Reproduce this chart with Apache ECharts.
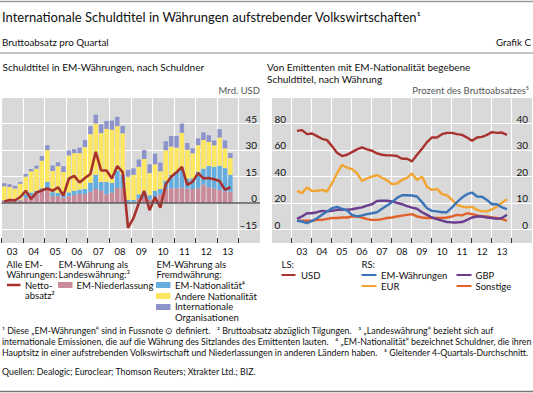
<!DOCTYPE html>
<html><head><meta charset="utf-8">
<script src="https://cdn.jsdelivr.net/npm/echarts@6.0.0/dist/echarts.min.js"></script>
<style>html,body{margin:0;padding:0;background:#fff}#c{width:533px;height:393px}</style>
</head><body><div id="c"></div>
<script>
// ---------- DATA ----------
const leftYearLabels  = ['03','04','05','06','07','08','09','10','11','12','13',''];
const rightYearLabels = ['','03','04','05','06','07','08','09','10','11','12','13',''];
const leftValueTicks  = [-15, 0, 15, 30, 45];
const rightTicksLS    = [0, 20, 40, 60, 80];
const rightTicksRS    = [0, 10, 20, 30, 40];

// Left panel: quarterly, 2003Q1 - 2013Q3 (bn USD)
const emNiederlassung = [1.5,1.5,1.0,1.5,3.0,4.5,5.5,6.5,8.5,4.0,4.0,3.3,3.9,4.6,5.2,5.2,6.5,8.0,7.0,5.0,6.0,8.5,8.5,1.0,0.8,2.5,3.0,2.0,3.5,5.0,8.0,8.4,8.4,8.8,8.2,8.0,8.4,10.5,9.0,8.4,7.5,6.6,6.6];
const emNationalitaet = [0.3,0.3,0.3,0.5,2.0,1.5,1.5,2.0,3.5,2.2,1.8,1.3,2.2,2.4,2.4,2.8,5.0,8.0,5.0,7.0,5.5,10.0,7.5,1.0,1.0,2.5,3.5,2.5,3.5,3.0,4.7,7.5,9.4,10.9,5.6,6.0,9.4,9.0,12.0,12.2,13.7,13.2,9.4];
const andereNationalitaet = [7.8,7.4,7.0,9.0,10.0,12.0,12.5,15.5,18.0,12.0,15.1,13.0,20.9,21.3,20.7,23.7,27.5,29.0,27.6,30.0,30.0,25.0,23.5,13.0,14.2,15.5,18.5,12.5,15.0,10.0,17.2,16.1,13.6,20.0,16.4,14.2,15.0,16.2,13.6,12.1,15.9,11.2,9.5];
const intOrganisationen = [1.6,1.5,1.5,1.0,1.5,1.3,1.7,2.6,2.8,3.1,2.2,3.3,2.8,2.2,3.1,4.0,4.5,5.0,5.0,4.5,5.2,5.3,4.2,3.7,3.7,4.2,5.0,5.0,6.0,5.0,5.1,6.0,6.6,5.3,3.8,2.8,3.8,4.3,3.8,2.8,4.7,4.5,2.8];
const nettoabsatz = [1.0,1.8,1.6,3.5,7.0,2.4,6.0,7.2,8.3,7.0,9.0,4.3,13.8,15.4,11.7,14.2,16.5,29.0,18.5,18.5,14.0,21.0,17.5,-14.0,-8.5,0.0,6.8,-4.0,3.5,-2.5,10.5,15.0,17.5,20.5,10.3,12.2,17.0,14.0,14.2,13.5,12.5,7.5,9.0];

// Right panel: % of gross issuance, 4-quarter moving average
const usd = [74.5,75,72,72.5,70.5,68.5,67.5,63,58,55.5,56.5,58.5,60.5,62,60.5,59.5,57.5,56.5,56,56,55.5,53.5,53.5,51.5,56.5,61,66,69.5,69.5,72,73,73,72,71.5,69.5,67,69.5,70,71.5,73.5,73,73.2,71.5];
const emWaehrungen = [3.4,3.1,2.5,3.3,4.3,5.6,6.9,8.1,8.6,7.9,7.3,5.6,5.0,5.4,5.9,6.2,6.6,7.9,9.1,10.4,12.0,13.0,13.0,12.9,12.5,10.4,8.1,7.1,6.9,6.6,6.6,8.4,10.4,12.1,13.4,14.0,12.5,12.4,11.2,9.6,9.6,8.4,7.8];
const eur = [14.6,13.8,15.9,14.6,14.7,15.0,14.4,17.5,21.2,24.4,23.4,22.8,21.2,18.4,19.3,20.0,20.6,19.6,18.6,17.2,17.4,18.8,19.5,21.2,18.7,20.0,16.2,15.0,15.4,13.4,12.9,11.3,9.4,8.7,8.4,8.6,7.5,6.9,6.9,7.7,8.7,10.2,11.5];
const gbp = [4.1,5.0,6.2,6.2,6.6,7.1,6.9,7.1,7.5,7.5,7.5,7.7,8.1,8.4,9.1,9.6,10.8,10.9,10.9,10.7,10.1,9.6,8.9,8.3,7.9,6.6,5.6,4.6,4.0,3.4,2.9,2.75,2.75,2.9,3.7,4.6,5.0,5.0,4.6,4.4,4.1,4.4,5.6];
const sonstige = [3.4,3.4,3.4,3.4,3.7,3.7,4.1,4.4,4.4,4.6,4.6,5.0,5.0,4.6,4.0,3.7,3.7,4.0,4.4,4.6,5.0,5.3,5.6,5.9,5.0,4.6,4.4,4.4,4.4,4.4,4.6,5.0,5.6,5.4,6.2,5.9,5.4,5.0,5.0,4.6,4.4,4.0,3.4];

// ---------- STYLE ----------
const FONT = 'Lato, "Liberation Sans", sans-serif';
const GREY = '#d9d9d9';
const C = {
  red: '#a8322d', pink: '#c98a99', blue: '#63ade0', yellow: '#fde660', purple: '#8c93cb',
  usd: '#a8322d', em: '#3c74b8', eur: '#f2a530', gbp: '#6b3d8e', son: '#e2602a'
};
// quarter categories 2003Q1..2014Q4 for the left panel
const quarterCats = [];
leftYearLabels.forEach((y, yi) => { for (let q = 1; q <= 4; q++) quarterCats.push((2003 + yi) + 'Q' + q); });
const qEnd = i => 2003 + (i + 1) / 4;

function bar(name, arr, color, extra) {
  return Object.assign({
    type: 'bar', name, xAxisIndex: 1, yAxisIndex: 0, stack: 'left', barWidth: 4.4,
    itemStyle: { color }, data: arr, silent: true, z: 2
  }, extra || {});
}
function rline(name, arr, color, yIdx) {
  return {
    type: 'line', name, xAxisIndex: 3, yAxisIndex: yIdx, symbol: 'none', silent: true,
    lineStyle: { color, width: 2.4 }, data: arr.map((v, i) => [qEnd(i), v]), z: 3
  };
}

const chart = echarts.init(document.getElementById('c'), null, { renderer: 'svg' });

const txt = (x, y, text, size, extra) => ({
  type: 'text', x, y, silent: true,
  style: Object.assign({ text, font: `${size}px ${FONT}`, fill: '#111', align: 'left', verticalAlign: 'middle' }, (extra || {}))
});
const hline = (x1, x2, y, color, w) => ({ type: 'line', silent: true, shape: { x1, y1: y, x2, y2: y }, style: { stroke: color, lineWidth: w } });
const rect = (x, y, w, h, color) => ({ type: 'rect', silent: true, shape: { x, y, width: w, height: h }, style: { fill: color } });

const catAxis = (gridIndex, data) => ({
  type: 'category', gridIndex, data, boundaryGap: true,
  axisLine: { show: false }, axisTick: { show: false }, splitLine: { show: false },
  axisLabel: { interval: 0, margin: 3, fontSize: 9.5, color: '#111', fontFamily: FONT }
});
const tickAxis = (gridIndex) => ({
  type: 'value', gridIndex, min: 2003, max: 2014, interval: 1,
  axisLine: { show: false }, axisLabel: { show: false },
  axisTick: { show: true, inside: true, length: 5, lineStyle: { color: '#333', width: 1 } },
  splitLine: { show: true, lineStyle: { color: '#fff', width: 1.2 } }
});

const option = {
  animation: false,
  grid: [
    { left: 1.5, right: 273, top: 97, bottom: 150, show: true, backgroundColor: GREY, borderWidth: 0, outerBoundsMode: 'none' },
    { left: 272, right: 1, top: 97, bottom: 150, show: true, backgroundColor: GREY, borderWidth: 0, outerBoundsMode: 'none' },
    { left: 1.5, right: 533 - 1.5 - 11 * 21.56, top: 97, bottom: 150, outerBoundsMode: 'none' },
    { left: 291.7, right: 21.3, top: 97, bottom: 150, outerBoundsMode: 'none' }
  ],
  xAxis: [
    catAxis(0, leftYearLabels),
    { type: 'category', gridIndex: 0, data: quarterCats, boundaryGap: true, show: false },
    catAxis(1, rightYearLabels),
    { type: 'value', gridIndex: 1, min: 2002, max: 2015, show: false },
    tickAxis(2),
    tickAxis(3)
  ],
  yAxis: [
    { type: 'value', gridIndex: 0, position: 'right', min: -22.5, max: 60, interval: 7.5,
      axisLine: { show: false }, axisTick: { show: false },
      splitLine: { show: true, lineStyle: { color: ['rgba(0,0,0,0)', '#fff'], width: 1.2 } },
      axisLabel: { inside: true, margin: 3, verticalAlign: 'bottom', fontSize: 10, color: '#111', fontFamily: FONT,
        formatter: v => leftValueTicks.includes(v) ? String(v).replace('-', '\u2013') : '' } },
    { type: 'value', gridIndex: 1, position: 'left', min: -10, max: 100, interval: 10,
      axisLine: { show: false }, axisTick: { show: false },
      splitLine: { show: true, lineStyle: { color: ['rgba(0,0,0,0)', '#fff'], width: 1.2 } },
      axisLabel: { inside: true, margin: 2.5, verticalAlign: 'bottom', fontSize: 10, color: '#111', fontFamily: FONT,
        formatter: v => rightTicksLS.includes(v) ? String(v) : '' } },
    { type: 'value', gridIndex: 1, position: 'right', min: -5, max: 50, interval: 5,
      axisLine: { show: false }, axisTick: { show: false }, splitLine: { show: false },
      axisLabel: { inside: true, margin: 4, verticalAlign: 'bottom', fontSize: 10, color: '#111', fontFamily: FONT,
        formatter: v => rightTicksRS.includes(v) ? String(v) : '' } },
    { type: 'value', gridIndex: 2, show: false },
    { type: 'value', gridIndex: 3, show: false }
  ],
  series: [
    bar('EM-Niederlassung', emNiederlassung, C.pink, {
      markLine: { silent: true, symbol: ['none', 'none'], label: { show: false },
        lineStyle: { color: '#5a5a5a', width: 1.6, type: 'solid' }, data: [{ yAxis: 0 }] }
    }),
    bar('EM-Nationalität', emNationalitaet, C.blue),
    bar('Andere Nationalität', andereNationalitaet, C.yellow),
    bar('Internationale Organisationen', intOrganisationen, C.purple),
    { type: 'line', name: 'Nettoabsatz', xAxisIndex: 1, yAxisIndex: 0, symbol: 'none', silent: true,
      lineStyle: { color: C.red, width: 2.6 }, data: nettoabsatz, z: 4 },
    rline('USD', usd, C.usd, 1),
    rline('EUR', eur, C.eur, 2),
    rline('Sonstige', sonstige, C.son, 2),
    rline('GBP', gbp, C.gbp, 2),
    rline('EM-Währungen', emWaehrungen, C.em, 2)
  ],
  graphic: [
    hline(0, 533, 1.5, '#9a9a9a', 1.5),
    txt(2, 17, 'Internationale Schuldtitel in Währungen aufstrebender Volkswirtschaften\u00b9', 13),
    txt(2, 41.5, 'Bruttoabsatz pro Quartal', 9.8),
    txt(531, 41.5, 'Grafik C', 9.8, { align: 'right' }),
    hline(0, 533, 53, '#8a8a8a', 1),
    txt(2.5, 66.5, 'Schuldtitel in EM-Währungen, nach Schuldner', 10),
    txt(267, 66.5, 'Von Emittenten mit EM-Nationalität begebene', 10),
    txt(267, 79, 'Schuldtitel, nach Währung', 10),
    txt(260, 90.5, 'Mrd. USD', 9.5, { align: 'right', fill: '#555' }),
    txt(529, 90.5, 'Prozent des Bruttoabsatzes\u2075', 9.5, { align: 'right', fill: '#555' }),

    // left legend
    txt(6.5, 264, 'Alle EM-', 9.5), txt(6.5, 274, 'Währungen:', 9.5),
    hline(7, 20.5, 285, C.red, 2.5),
    txt(25, 285, 'Netto-', 9.5), txt(25, 295, 'absatz\u00b2', 9.5),
    txt(58.5, 264, 'EM-Währung als', 9.5), txt(58.5, 274, 'Landeswährung:\u00b3', 9.5),
    rect(58, 282, 14.5, 6, C.pink), txt(76.5, 285, 'EM-Niederlassung', 9.5),
    txt(156.5, 264, 'EM-Währung als', 9.5), txt(156.5, 274, 'Fremdwährung:', 9.5),
    rect(156, 282, 14.5, 6, C.blue), txt(175, 285, 'EM-Nationalität\u2074', 9.5),
    rect(156, 293, 14.5, 6, C.yellow), txt(175, 296, 'Andere Nationalität', 9.5),
    rect(156, 304, 14.5, 6, C.purple), txt(175, 306.5, 'Internationale', 9.5),
    txt(175, 317, 'Organisationen', 9.5),

    // right legend
    txt(281.5, 264, 'LS:', 9.5),
    hline(281.5, 295.5, 275, C.usd, 2), txt(301, 275, 'USD', 9.5),
    txt(361.5, 264, 'RS:', 9.5),
    hline(361.5, 376.5, 275, C.em, 2), txt(381, 275, 'EM-Währungen', 9.5),
    hline(361.5, 376.5, 286, C.eur, 2), txt(381, 286, 'EUR', 9.5),
    hline(456.5, 471.5, 275, C.gbp, 2), txt(475.5, 275, 'GBP', 9.5),
    hline(456.5, 471.5, 286, C.son, 2), txt(475.5, 286, 'Sonstige', 9.5),

    // footnotes
    txt(2, 330.5, '\u00b9 Diese \u201eEM-Währungen\u201c sind in Fussnote \u2299 definiert.   \u00b2 Bruttoabsatz abzüglich Tilgungen.   \u00b3 \u201eLandeswährung\u201c bezieht sich auf', 8.8),
    txt(2, 341.5, 'internationale Emissionen, die auf die Währung des Sitzlandes des Emittenten lauten.   \u2074 \u201eEM-Nationalität\u201c bezeichnet Schuldner, die ihren', 8.8),
    txt(2, 352.5, 'Hauptsitz in einer aufstrebenden Volkswirtschaft und Niederlassungen in anderen Ländern haben.   \u2075 Gleitender 4-Quartals-Durchschnitt.', 8.8),
    txt(2, 371, 'Quellen: Dealogic; Euroclear; Thomson Reuters; Xtrakter Ltd.; BIZ.', 8.8),
    hline(0, 533, 391.5, '#7a7a7a', 1.5)
  ]
};
chart.setOption(option);
</script></body></html>
